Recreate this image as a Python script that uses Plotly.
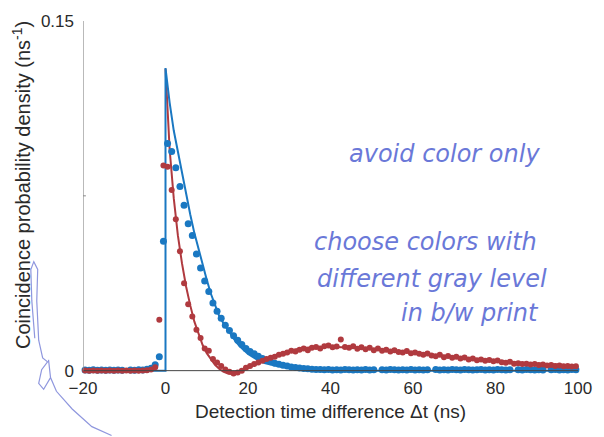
import plotly.graph_objects as go

# Measured coincidence histograms (1 ns bins, centres at k + 0.5 ns)
bin_start = -19.5
bin_width = 1.0

blue_counts = [
    0.0003, 0.0002, 0.0004, 0.0002, 0.0003, 0.0002, 0.0003, 0.0002, 0.0003, 0.0002,   # -19.5 .. -10.5
    None, 0.0003, 0.0002, 0.0004, 0.0003, 0.0006, 0.0010, 0.0025, 0.0060, 0.0555,     # -9.5 .. -0.5
    0.0975, 0.0940, 0.0870, 0.0790, 0.0710, 0.0630, 0.0580, 0.0500, 0.0440, 0.0385,   # 0.5 .. 9.5
    0.0340, 0.0290, 0.0255, 0.0225, 0.0195, 0.0172, 0.0150, 0.0130, 0.0112, 0.0095,   # 10.5 .. 19.5
    0.0082, 0.0072, 0.0062, 0.0052, 0.0045, 0.0038, 0.0032, 0.0027, 0.0023, 0.0020,   # 20.5 .. 29.5
    0.0016, 0.0013, 0.0011, 0.0009, 0.0008, 0.0006, 0.0005, 0.0005, 0.0004, 0.0005,   # 30.5 .. 39.5
    0.0003, 0.0004, 0.0003, 0.0005, 0.0004, 0.0003, 0.0004, 0.0003, 0.0005, 0.0003,   # 40.5 .. 49.5
    0.0004, None, 0.0004, 0.0003, 0.0005, 0.0004, 0.0003, 0.0004, 0.0003, 0.0005,     # 50.5 .. 59.5
    0.0003, 0.0004, 0.0003, 0.0004, None, 0.0005, 0.0003, 0.0004, 0.0003, 0.0005,     # 60.5 .. 69.5
    0.0004, 0.0003, 0.0005, 0.0004, 0.0003, 0.0004, 0.0005, 0.0003, 0.0004, 0.0003,   # 70.5 .. 79.5
    0.0005, 0.0004, 0.0003, 0.0004, None, 0.0004, 0.0003, 0.0005, 0.0004, 0.0003,     # 80.5 .. 89.5
    0.0004, 0.0003, None, 0.0004, 0.0005, 0.0003, 0.0004, 0.0003, 0.0005, 0.0004,     # 90.5 .. 99.5
    0.0003,
]

red_counts = [
    0.0001, 0.0000, 0.0001, 0.0000, 0.0001, 0.0000, 0.0001, 0.0000, 0.0001, 0.0000,   # -19.5 .. -10.5
    0.0001, 0.0000, 0.0001, 0.0000, 0.0001, 0.0002, 0.0005, 0.0015, 0.0218, 0.0880,   # -9.5 .. -0.5
    0.0875, 0.0775, 0.0650, 0.0512, 0.0375, 0.0285, 0.0232, 0.0175, 0.0140, 0.0095,   # 0.5 .. 9.5
    0.0085, 0.0050, 0.0035, 0.0020, 0.0005, -0.0005, -0.0012, -0.0008, 0.0000, 0.0012, # 10.5 .. 19.5
    0.0020, 0.0028, 0.0035, 0.0042, 0.0050, 0.0055, 0.0060, 0.0068, 0.0072, 0.0078,   # 20.5 .. 29.5
    0.0085, 0.0082, 0.0090, 0.0095, 0.0088, 0.0098, 0.0102, 0.0095, 0.0105, 0.0108,   # 30.5 .. 39.5
    0.0100, 0.0104, 0.0134, 0.0102, 0.0098, 0.0105, 0.0094, 0.0100, 0.0092, 0.0098,   # 40.5 .. 49.5
    0.0088, 0.0095, 0.0085, 0.0090, 0.0082, 0.0088, 0.0080, 0.0078, 0.0084, 0.0075,   # 50.5 .. 59.5
    0.0078, 0.0072, 0.0068, 0.0074, 0.0065, 0.0062, 0.0068, 0.0058, 0.0063, 0.0055,   # 60.5 .. 69.5
    0.0060, 0.0052, 0.0056, 0.0048, 0.0052, 0.0045, 0.0048, 0.0042, 0.0046, 0.0040,   # 70.5 .. 79.5
    0.0044, 0.0036, 0.0034, 0.0038, 0.0030, 0.0032, 0.0028, 0.0030, 0.0026, 0.0028,   # 80.5 .. 89.5
    0.0024, 0.0026, 0.0022, 0.0024, 0.0020, 0.0022, 0.0019, 0.0020, 0.0018, 0.0019,   # 90.5 .. 99.5
]

# Model curves
blue_fit_t = [-20, 0, 0, 1, 2, 3, 4, 5, 6, 7, 8, 9, 10, 11, 12, 13, 14, 15, 16, 17, 18, 19, 20,
              22, 24, 26, 28, 30, 35, 40, 50, 100]
blue_fit_p = [0, 0, 0.1298, 0.115, 0.103, 0.094, 0.084, 0.076, 0.067, 0.059, 0.052, 0.045, 0.039,
              0.033, 0.028, 0.0235, 0.0205, 0.0178, 0.015, 0.0125, 0.0105, 0.0088, 0.0072,
              0.005, 0.0033, 0.0024, 0.0017, 0.0012, 0.0005, 0.0002, 0.0, 0.0]

red_fit_t = [0, 1, 2, 3, 4, 5, 6, 7, 8, 9, 10, 11, 12, 13, 14, 15, 16, 17, 18, 19, 20,
             22, 24, 26, 28, 30, 33, 36, 40, 44, 48, 52, 56, 60, 65, 70, 75, 80, 85, 90, 95, 100]
red_fit_p = [0.1295, 0.095, 0.074, 0.058, 0.046, 0.036, 0.028, 0.021, 0.016, 0.011, 0.0075,
             0.0048, 0.0025, 0.0008, -0.0004, -0.0011, -0.0014, -0.0012, -0.0006, 0.0002, 0.0011,
             0.003, 0.0048, 0.0063, 0.0076, 0.0086, 0.0096, 0.0101, 0.0103, 0.0101, 0.0096, 0.009,
             0.0083, 0.0076, 0.0066, 0.0057, 0.0049, 0.0042, 0.0035, 0.003, 0.0025, 0.0021]

x_ticks = [-20, 0, 20, 40, 60, 80, 100]
y_ticks = [0, 0.15]
y_tick_text = ["0", "0.15"]
y_minor_tick = 0.075

notes = [
    ("avoid color only", 67.6, 0.0931),
    ("choose colors with", 63.0, 0.0552),
    ("different gray level", 64.7, 0.0392),
    ("in b/w print", 73.8, 0.0249),
]

BLUE = "#1a78c2"
RED = "#b03a3f"
INK = "#6a78d8"
TXT = "#2a2a2a"

blue_t = [bin_start + i * bin_width for i in range(len(blue_counts))]
red_t = [bin_start + i * bin_width for i in range(len(red_counts))]

fig = go.Figure()

fig.add_trace(go.Scatter(x=red_fit_t, y=red_fit_p, mode="lines",
                         line=dict(color=RED, width=2), hoverinfo="skip"))
fig.add_trace(go.Scatter(x=blue_fit_t, y=blue_fit_p, mode="lines",
                         line=dict(color=BLUE, width=2), hoverinfo="skip"))
fig.add_trace(go.Scatter(x=blue_t, y=blue_counts, mode="markers",
                         marker=dict(color=BLUE, size=7), cliponaxis=False))
fig.add_trace(go.Scatter(x=red_t, y=red_counts, mode="markers",
                         marker=dict(color=RED, size=6), cliponaxis=False))

# plot-area geometry (pixels) for items placed outside the axes
L, R, T, B = 83, 586, 15, 379.5
W, H = 604, 437


def px(xp, yp):
    return (xp - L) / (R - L), (B - yp) / (B - T)


shapes = [
    # zero line
    dict(type="line", xref="x", yref="y", x0=-20, x1=100, y0=0, y1=0,
         line=dict(color="#444444", width=1), layer="above"),
    # left axis spine
    dict(type="line", xref="x", yref="y", x0=-20, x1=-20, y0=0, y1=0.15,
         line=dict(color="#8a8a8a", width=1.2)),
    # unlabelled mid tick
    dict(type="line", xref="x", yref="y", x0=-20, x1=-19.3, y0=y_minor_tick, y1=y_minor_tick,
         line=dict(color="#8a8a8a", width=1)),
]

# pen stroke in the left margin
stroke_px = [(34, 338), (31, 300), (30, 268), (33, 260), (37, 268), (36, 300), (38, 340),
             (42, 358), (47, 362), (41, 370), (38, 384), (43, 390), (50, 378), (48, 360),
             (50, 378), (56, 392), (72, 410), (92, 428), (112, 437)]
pts = [px(a, b) for a, b in stroke_px]
path = "M " + " L ".join(f"{a:.4f},{b:.4f}" for a, b in pts)
shapes.append(dict(type="path", xref="paper", yref="paper", path=path,
                   line=dict(color="#8f97de", width=1.2)))

annotations = []
for text, xa, ya in notes:
    annotations.append(dict(x=xa, y=ya, xref="x", yref="y", text=f"<i>{text}</i>",
                            xanchor="center", yanchor="middle", showarrow=False,
                            font=dict(family="DejaVu Sans", size=24, color=INK)))

ytx, yty = px(20, 182)
annotations.append(dict(x=ytx, y=yty, xref="paper", yref="paper", textangle=-90,
                        xanchor="center", yanchor="middle",
                        text="Coincidence probability density (ns<sup>-1</sup>)", showarrow=False,
                        font=dict(family="Liberation Sans, Arial", size=20, color=TXT)))
xtx, xty = px(334, 413)
annotations.append(dict(x=xtx, y=xty, xref="paper", yref="paper",
                        xanchor="center", yanchor="middle",
                        text="Detection time difference Δt (ns)", showarrow=False,
                        font=dict(family="Liberation Sans, Arial", size=19, color=TXT)))

y_lo = -0.15 * (B - 371) / (371 - T)

fig.update_layout(
    width=W, height=H,
    margin=dict(l=L, r=W - R, t=T, b=H - B),
    paper_bgcolor="white", plot_bgcolor="white",
    showlegend=False,
    shapes=shapes, annotations=annotations,
    font=dict(family="Liberation Sans, Arial", size=17, color=TXT),
    xaxis=dict(range=[-20, 100], tickvals=x_ticks, showgrid=False, zeroline=False,
               showline=False, ticks="", ticklabelstandoff=-3,
               tickfont=dict(size=17, color=TXT)),
    yaxis=dict(range=[y_lo, 0.15], tickvals=y_ticks, ticktext=y_tick_text, showgrid=False,
               zeroline=False, showline=False, ticks="", ticklabelstandoff=8,
               tickfont=dict(size=17, color=TXT)),
)

fig.write_html("out.html")
